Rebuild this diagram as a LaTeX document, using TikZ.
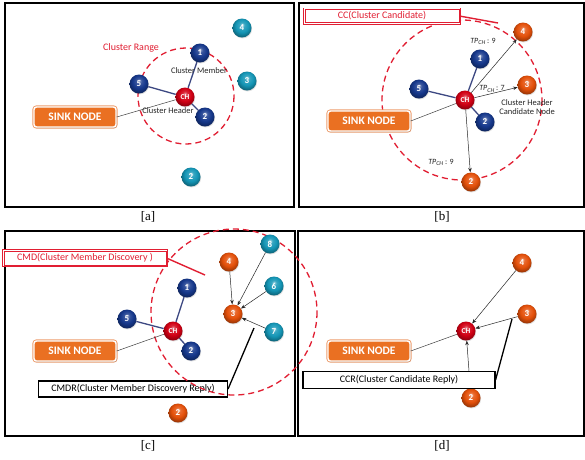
\documentclass[tikz,border=0pt]{standalone}
\usepackage{fontspec}
\setmainfont{Carlito}
\newfontfamily\capfont{Liberation Serif}
\usetikzlibrary{arrows.meta,shadows}

\definecolor{nblue}{RGB}{22,56,140}
\definecolor{nteal}{RGB}{20,150,182}
\definecolor{norange}{RGB}{228,80,10}
\definecolor{nred}{RGB}{210,0,20}
\definecolor{sinkfill}{RGB}{234,112,34}
\definecolor{sinkrim}{RGB}{238,158,110}
\definecolor{linkblue}{RGB}{60,72,130}
\definecolor{rangered}{RGB}{225,30,50}
\colorlet{ballcol}{nblue}

% glossy sphere: light spot near the top, dark rim at the bottom
\pgfdeclareradialshading[ballcol]{glossyball}{\pgfpoint{0bp}{9bp}}{%
  color(0bp)=(ballcol!40!white); color(7bp)=(ballcol!85!white);
  color(17bp)=(ballcol); color(30bp)=(ballcol!60!black);
  color(50bp)=(ballcol!45!black)}

\newcommand{\tpch}[1]{\textit{TP}\textsubscript{\textit{CH}}\,: #1}

\begin{document}
\begin{tikzpicture}[x=1pt,y=-1pt,
  panel/.style={draw=black,line width=1.3pt},
  caplabel/.style={font=\capfont\fontsize{13}{13}\selectfont},
  glossy/.code={\colorlet{ballcol}{#1}},
  ball/.style={circle,minimum size=19pt,inner sep=0pt,text=white,
    shade,shading=glossyball,
    drop shadow={shadow xshift=0.6pt,shadow yshift=-0.9pt,opacity=0.25},
    font=\fontsize{9}{9}\selectfont\bfseries},
  blueball/.style={ball,glossy=nblue},
  tealball/.style={ball,glossy=nteal},
  orangeball/.style={ball,glossy=norange},
  chball/.style={ball,glossy=nred,font=\fontsize{7.5}{7.5}\selectfont\bfseries},
  sinkbox/.style={rectangle,rounded corners=2.5pt,fill=sinkfill,draw=white,
    line width=1.4pt,minimum width=82pt,minimum height=20pt,text=white,
    font=\fontsize{11.5}{11.5}\selectfont\bfseries,
    preaction={draw=sinkrim,line width=3.2pt},
    drop shadow={shadow xshift=0.8pt,shadow yshift=-1.2pt,opacity=0.35}},
  rangecircle/.style={draw=rangered,line width=1.3pt,dash pattern=on 6pt off 4pt},
  memberlink/.style={draw=linkblue,line width=1.3pt},
  sinklink/.style={draw=black!75,line width=0.5pt},
  msgarrow/.style={draw=black!85,line width=0.5pt,-{Stealth[length=4.5pt,width=3.5pt]}},
  redbox/.style={rectangle,fill=white,draw=rangered,line width=0.8pt,
    preaction={draw=rangered,line width=4pt},
    preaction={draw=white,line width=2.2pt},
    text=rangered,inner sep=2pt,font=\fontsize{10}{10}\selectfont},
  blackbox/.style={rectangle,draw=black,line width=1.1pt,fill=white,text=black,
    inner sep=2pt,font=\fontsize{10}{10}\selectfont},
  redpointer/.style={draw=rangered,line width=1.4pt},
  blackpointer/.style={draw=black,line width=1.3pt},
  smalltext/.style={font=\fontsize{8.5}{9.5}\selectfont,text=black!85,inner sep=0pt},
  tptext/.style={font=\fontsize{8}{8}\selectfont,text=black!85,inner sep=0pt}
]
\useasboundingbox (0,0) rectangle (585,459);
\fill[white] (0,0) rectangle (585,459);

% ---------------- panel [a] ----------------
\draw[panel] (5,3) rectangle (294,207);
\node[caplabel] (capA) at (148,217) {[a]};
\draw[rangecircle] (186,96) circle (48);
\node[text=rangered,font=\fontsize{10}{10}\selectfont] (rangeA) at (131,48) {Cluster Range};
\node[tealball] (a4) at (242,28) {4};
\node[tealball] (a3) at (247,81) {3};
\node[blueball] (a1) at (200,53) {1};
\node[blueball] (a5) at (139,84) {5};
\node[blueball] (a2) at (205,117) {2};
\node[tealball] (a2b) at (191,177) {2};
\node[chball] (chA) at (185,97) {CH};
\node[sinkbox] (sinkA) at (75,117) {SINK NODE};
\draw[memberlink] (chA) -- (a1);
\draw[memberlink] (chA) -- (a5);
\draw[memberlink] (chA) -- (a2);
\draw[sinklink] (sinkA.east) -- (chA);
\node[smalltext] (memA) at (199,71) {Cluster Member};
\node[smalltext] (headA) at (168,111) {Cluster Header};

% ---------------- panel [b] ----------------
\draw[panel] (299,3) rectangle (584,207);
\node[caplabel] (capB) at (442,217) {[b]};
\draw[rangecircle] (462,100) circle (80);
\node[orangeball] (b4) at (523,32) {4};
\node[blueball] (b1) at (480,59) {1};
\node[blueball] (b5) at (419,89) {5};
\node[orangeball] (b3) at (527,85) {3};
\node[blueball] (b2) at (485,122) {2};
\node[orangeball] (b2o) at (471,182) {2};
\node[chball] (chB) at (465,100) {CH};
\node[sinkbox] (sinkB) at (369,121) {SINK NODE};
\draw[memberlink] (chB) -- (b1);
\draw[memberlink] (chB) -- (b5);
\draw[memberlink] (chB) -- (b2);
\draw[msgarrow] (chB) -- (b4);
\draw[msgarrow] (chB) -- (b3);
\draw[msgarrow] (chB) -- (b2o);
\draw[sinklink] (sinkB.east) -- (chB);
\node[tptext] (tpB1) at (483,41) {\tpch{9}};
\node[tptext] (tpB2) at (492,89) {\tpch{7}};
\node[tptext] (tpB3) at (441,162) {\tpch{9}};
\node[smalltext,align=center] (candB) at (527,107) {Cluster Header\\Candidate Node};
\node[redbox,minimum width=154pt,minimum height=13pt] (ccB) at (382,16) {CC(Cluster Candidate)};
\coordinate (ccTip) at (498,23);
\draw[redpointer] (ccB.east) -- (ccTip);

% ---------------- panel [c] ----------------
\draw[panel] (5,231) rectangle (295,436);
\node[caplabel] (capC) at (148,446) {[c]};
\node[orangeball] (c2o) at (178,413) {2};
\node[blackbox,minimum width=189pt,minimum height=16pt] (cmdr) at (133,389) {CMDR(Cluster Member Discovery Reply)};

% ---------------- panel [d] ----------------
\draw[panel] (298,231) rectangle (584,436);
\node[caplabel] (capD) at (442,446) {[d]};

% discovery range of the candidate, reaching into panel [d]
\draw[rangecircle] (234,312) circle (83);

\node[tealball] (c8) at (270,244) {8};
\node[orangeball] (c4) at (229,262) {4};
\node[tealball] (c6) at (274,286) {6};
\node[blueball] (c1) at (187,288) {1};
\node[orangeball] (c3) at (233,314) {3};
\node[blueball] (c5) at (127,319) {5};
\node[tealball] (c7) at (274,332) {7};
\node[blueball] (c2) at (191,351) {2};
\node[chball] (chC) at (173,331) {CH};
\node[sinkbox] (sinkC) at (75,351) {SINK NODE};
\draw[memberlink] (chC) -- (c1);
\draw[memberlink] (chC) -- (c5);
\draw[memberlink] (chC) -- (c2);
\draw[msgarrow] (c4) -- (c3);
\draw[msgarrow] (c8) -- (c3);
\draw[msgarrow] (c6) -- (c3);
\draw[msgarrow] (c7) -- (c3);
\draw[sinklink] (sinkC.east) -- (chC);
\coordinate (cmdrTip) at (254,328);
\draw[blackpointer] (cmdr.east) -- (cmdrTip);
\node[redbox,minimum width=162pt,minimum height=14pt] (cmd) at (85,258) {CMD(Cluster Member Discovery )};
\coordinate (cmdTip) at (205,275);
\draw[redpointer] (cmd.east) -- (cmdTip);

% panel [d] nodes
\node[orangeball] (d4) at (522,263) {4};
\node[orangeball] (d3) at (527,314) {3};
\node[orangeball] (d2) at (471,398) {2};
\node[chball] (chD) at (466,331) {CH};
\node[sinkbox] (sinkD) at (369,351) {SINK NODE};
\draw[msgarrow] (d4) -- (chD);
\draw[msgarrow] (d3) -- (chD);
\draw[msgarrow] (d2) -- (chD);
\draw[sinklink] (sinkD.east) -- (chD);
\node[blackbox,minimum width=192pt,minimum height=17pt] (ccr) at (399,380) {CCR(Cluster Candidate Reply)};
\coordinate (ccrTip) at (512,319);
\draw[blackpointer] (ccr.east) -- (ccrTip);
\end{tikzpicture}
\end{document}
